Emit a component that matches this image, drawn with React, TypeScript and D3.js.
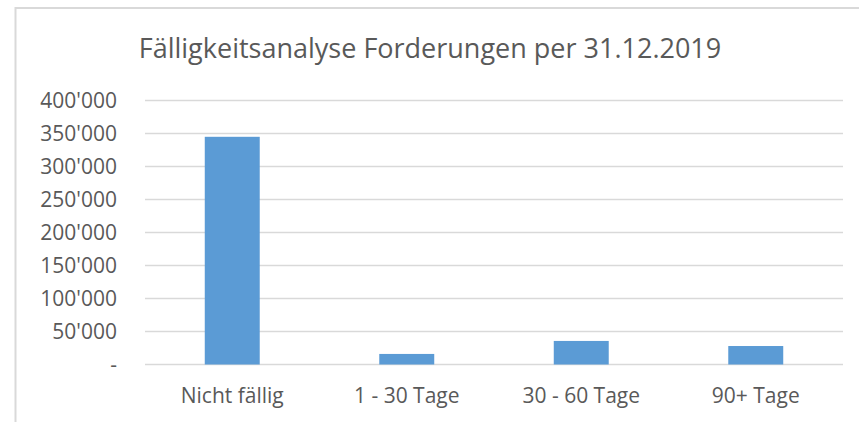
import { FC, useRef, useEffect } from 'react'
import * as d3 from 'd3'

const categories = ['Nicht fällig', '1 - 30 Tage', '30 - 60 Tage', '90+ Tage']
const values = [345000, 16000, 35700, 28000]
const yTicks = [0, 50000, 100000, 150000, 200000, 250000, 300000, 350000, 400000]
const title = 'Fälligkeitsanalyse Forderungen per 31.12.2019'

const W = 859
const H = 422
const FONT = '"Open Sans", sans-serif'

const fmt = (v: number) => {
  if (v === 0) return '-'
  return d3.format(',')(v).replace(/,/g, "'")
}

const App: FC = () => {
  const svgRef = useRef<SVGSVGElement>(null)

  useEffect(() => {
    if (!svgRef.current) return
    const svg = d3.select(svgRef.current)
    svg.selectAll('*').remove()

    const margin = { left: 145, right: 16, top: 100.5, bottom: 57.5 }

    // chart frame (cut off at right/bottom like the screenshot)
    svg.append('rect')
      .attr('x', 15.5).attr('y', 8)
      .attr('width', 900).attr('height', 500)
      .attr('fill', 'white')
      .attr('stroke', '#d9d9d9')
      .attr('stroke-width', 2)

    svg.append('text')
      .attr('x', 430)
      .attr('y', 57.5)
      .attr('text-anchor', 'middle')
      .attr('font-family', FONT)
      .attr('font-size', '27px')
      .attr('fill', '#595959')
      .text(title)

    const x = d3.scaleBand<string>()
      .domain(categories)
      .range([margin.left, W - margin.right])
      .paddingInner(0.685)
      .paddingOuter(0.3425)

    const y = d3.scaleLinear()
      .domain([0, 400000])
      .range([H - margin.bottom, margin.top])

    const grid = svg.append('g')
    grid.selectAll('line')
      .data(yTicks)
      .join('line')
      .attr('x1', margin.left)
      .attr('x2', W - margin.right)
      .attr('y1', d => y(d))
      .attr('y2', d => y(d))
      .attr('stroke', '#d9d9d9')
      .attr('stroke-width', 1.5)

    svg.append('g')
      .selectAll('text')
      .data(yTicks)
      .join('text')
      .attr('x', 117)
      .attr('y', d => y(d))
      .attr('dy', '0.35em')
      .attr('text-anchor', 'end')
      .attr('font-family', FONT)
      .attr('font-size', '21px')
      .attr('fill', '#595959')
      .text(d => fmt(d))

    svg.append('g')
      .selectAll('rect')
      .data(values)
      .join('rect')
      .attr('x', (_, i) => x(categories[i]) as number)
      .attr('width', x.bandwidth())
      .attr('y', d => y(d))
      .attr('height', d => y(0) - y(d))
      .attr('fill', '#5b9bd5')

    svg.append('g')
      .selectAll('text')
      .data(categories)
      .join('text')
      .attr('x', d => (x(d) as number) + x.bandwidth() / 2)
      .attr('y', 403)
      .attr('text-anchor', 'middle')
      .attr('font-family', FONT)
      .attr('font-size', '21px')
      .attr('fill', '#595959')
      .text(d => d)
  }, [])

  return (
    <svg
      ref={svgRef}
      width={W}
      height={H}
      style={{ position: 'absolute', left: 0, top: 0, background: 'white' }}
    />
  )
}

export default App
